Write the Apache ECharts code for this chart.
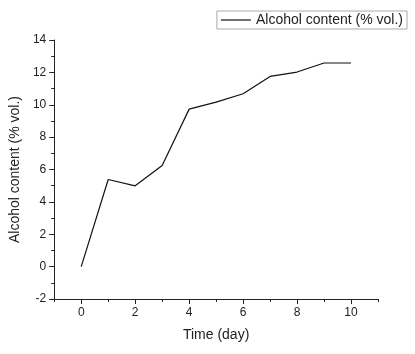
<!DOCTYPE html>
<html>
<head>
<meta charset="utf-8">
<script src="https://cdn.jsdelivr.net/npm/echarts@6/dist/echarts.min.js"></script>
<style>
  html, body { margin: 0; padding: 0; background: #fff; }
  #main { width: 415px; height: 354px; }
</style>
</head>
<body>
<div id="main"></div>
<script>
const days = [0, 1, 2, 3, 4, 5, 6, 7, 8, 9, 10];
const alcohol = [0, 5.38, 4.99, 6.25, 9.73, 10.16, 10.68, 11.75, 12.02, 12.58, 12.58];
const xLabels = [0, 2, 4, 6, 8, 10];
const xMinor = [-1, 1, 3, 5, 7, 9, 11];

const font = "Liberation Sans, Arial, sans-serif";
const ink = "#222";

const chart = echarts.init(document.getElementById("main"));

chart.setOption({
  animation: false,
  textStyle: { fontFamily: font },
  legend: {
    right: 8,
    top: 11,
    padding: [2, 4, 2, 4],
    borderColor: "#aaa",
    borderWidth: 1,
    icon: "rect",
    itemWidth: 30,
    itemHeight: 1.2,
    itemGap: 4,
    textStyle: { fontSize: 14, color: ink, fontFamily: font, padding: [0, 0, 0, 0] },
    data: ["Alcohol content (% vol.)"],
  },
  grid: {
    left: 48,
    top: 40,
    right: 37,
    bottom: 55,
    containLabel: false,
  },
  xAxis: [
    {
      type: "value",
      min: -1,
      max: 11,
      interval: 1,
      name: "Time (day)",
      nameLocation: "middle",
      nameGap: 29,
      nameTextStyle: { fontSize: 14, color: ink },
      axisLine: { onZero: false, lineStyle: { color: ink, width: 1 } },
      axisTick: { customValues: xLabels, length: 5, lineStyle: { color: ink } },
      axisLabel: { customValues: xLabels, fontSize: 12, color: ink, margin: 8 },
      splitLine: { show: false },
    },
    {
      type: "value",
      position: "bottom",
      min: -1,
      max: 11,
      interval: 1,
      axisLine: { show: false, onZero: false },
      axisTick: { customValues: xMinor, length: 3, lineStyle: { color: ink } },
      axisLabel: { show: false },
      splitLine: { show: false },
    },
  ],
  yAxis: {
    type: "value",
    min: -2,
    max: 14,
    interval: 2,
    name: "Alcohol content (% vol.)",
    nameLocation: "middle",
    nameGap: 25,
    nameTextStyle: { fontSize: 14, color: ink },
    axisLine: { show: true, onZero: false, lineStyle: { color: ink, width: 1 } },
    axisTick: { show: true, length: 5, lineStyle: { color: ink } },
    minorTick: { show: true, splitNumber: 2, length: 3, lineStyle: { color: ink } },
    axisLabel: { fontSize: 12, color: ink, margin: 8 },
    splitLine: { show: false },
  },
  series: [
    {
      name: "Alcohol content (% vol.)",
      type: "line",
      xAxisIndex: 0,
      data: days.map((d, i) => [d, alcohol[i]]),
      symbol: "none",
      lineStyle: { color: "#111", width: 1.2 },
      itemStyle: { color: "#111" },
    },
  ],
});
</script>
</body>
</html>
